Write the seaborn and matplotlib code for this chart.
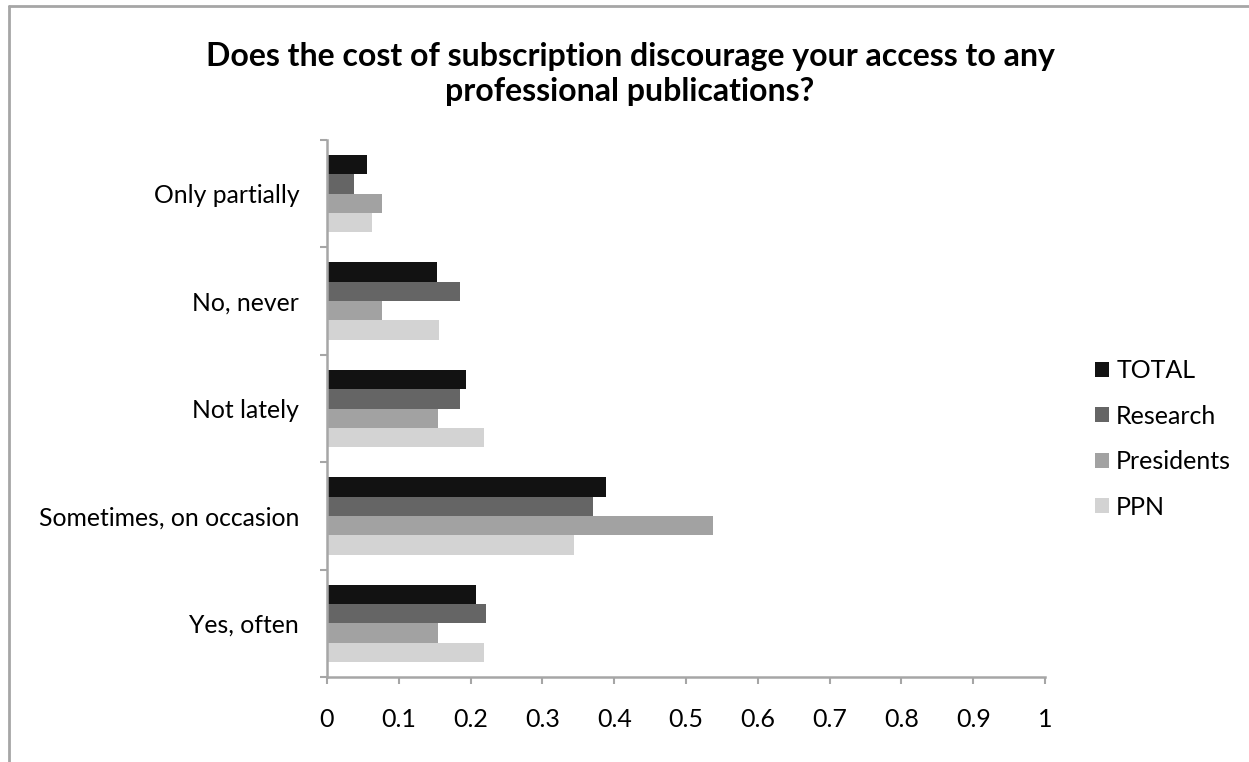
import matplotlib
matplotlib.use("Agg")
import matplotlib.pyplot as plt
from matplotlib.lines import Line2D
from matplotlib.patches import Patch
import seaborn as sns
import pandas as pd

# Survey answers (top to bottom) and share of respondents per group
answers = ["Only partially", "No, never", "Not lately",
           "Sometimes, on occasion", "Yes, often"]
groups = ["TOTAL", "Research", "Presidents", "PPN"]
total = [0.056, 0.153, 0.194, 0.389, 0.208]
research = [0.037, 0.185, 0.185, 0.370, 0.222]
presidents = [0.077, 0.077, 0.154, 0.538, 0.154]
ppn = [0.0625, 0.156, 0.219, 0.344, 0.219]
x_ticks = [0, 0.1, 0.2, 0.3, 0.4, 0.5, 0.6, 0.7, 0.8, 0.9, 1.0]
x_tick_labels = ["0", "0.1", "0.2", "0.3", "0.4", "0.5", "0.6", "0.7", "0.8", "0.9", "1"]
title = ("Does the cost of subscription discourage your access to any\n"
         "professional publications?")

colors = ["#121212", "#656565", "#a2a2a2", "#d3d3d3"]
frame_grey = "#a6a6a6"

df = pd.DataFrame({
    "answer": answers * 4,
    "group": sum([[g] * len(answers) for g in groups], []),
    "share": total + research + presidents + ppn,
})

sns.set_theme(style="white")
plt.rcParams["font.family"] = ["Lato", "DejaVu Sans"]
plt.rcParams["text.color"] = "black"

fig = plt.figure(figsize=(12.49, 7.62), dpi=100)
ax = fig.add_axes([327 / 1249, 85 / 762, 718 / 1249, 537 / 762])

sns.barplot(data=df, y="answer", x="share", hue="group", order=answers,
            hue_order=groups, palette=colors, orient="h", width=0.72, gap=0,
            saturation=1, edgecolor="none", linewidth=0, legend=False, ax=ax)

ax.set_xlim(0, 1)
ax.set_ylim(len(answers) - 0.5, -0.5)
ax.set_xlabel("")
ax.set_ylabel("")

ax.set_xticks(x_ticks)
ax.set_xticklabels(x_tick_labels, fontsize=18, color="black")
ax.tick_params(axis="x", which="major", direction="out", length=5,
               width=1.5, color=frame_grey, pad=17, bottom=True)

# category labels at band centres, tick marks at band boundaries
ax.set_yticks(range(len(answers)))
ax.set_yticklabels(answers, fontsize=17.8, color="black")
ax.tick_params(axis="y", which="major", length=0, pad=20)
ax.set_yticks([i - 0.5 for i in range(len(answers) + 1)], minor=True)
ax.tick_params(axis="y", which="minor", direction="out", length=5,
               width=1.5, color=frame_grey, left=True)

for side in ["top", "right"]:
    ax.spines[side].set_visible(False)
for side in ["left", "bottom"]:
    ax.spines[side].set_color(frame_grey)
    ax.spines[side].set_linewidth(1.8)
ax.grid(False)

fig.text(630 / 1249, 1 - 74 / 762, title, ha="center", va="center",
         fontsize=23, fontweight="bold", linespacing=1.25, color="black")

handles = [Patch(facecolor=c, edgecolor="none") for c in colors]
fig.legend(handles, groups, loc="center left",
           bbox_to_anchor=(1085 / 1249, 1 - 439 / 762), frameon=False,
           fontsize=18, labelcolor="black", handlelength=0.55,
           handleheight=0.55, handletextpad=0.3, labelspacing=0.9,
           borderaxespad=0)

# outer chart frame (top and left edges)
fig.add_artist(Line2D([9 / 1249, 1.0], [1 - 6 / 762, 1 - 6 / 762],
                      transform=fig.transFigure, color=frame_grey, lw=2.0))
fig.add_artist(Line2D([9 / 1249, 9 / 1249], [0.0, 1 - 6 / 762],
                      transform=fig.transFigure, color=frame_grey, lw=2.0))

fig.savefig("out.png", dpi=100, facecolor="white")
